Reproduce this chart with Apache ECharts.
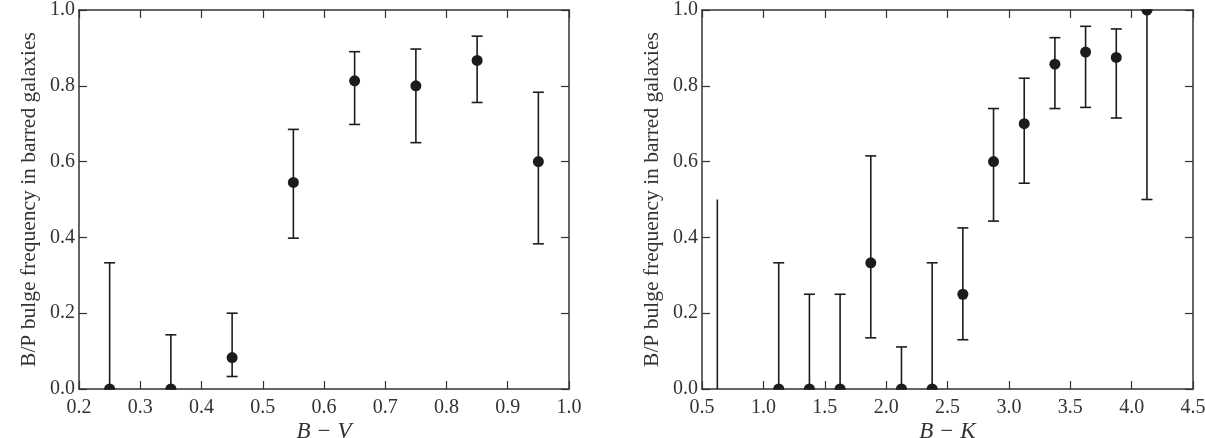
<!DOCTYPE html>
<html>
<head>
<meta charset="utf-8">
<script src="https://cdn.jsdelivr.net/npm/echarts@6/dist/echarts.min.js"></script>
<style>
  html, body { margin: 0; padding: 0; background: #fff; }
  #chart { width: 1205px; height: 438px; }
</style>
</head>
<body>
<div id="chart"></div>
<script>
// B-V panel
var bvX  = [0.25, 0.35, 0.45, 0.55, 0.65, 0.75, 0.85, 0.95];
var bvY  = [0.0, 0.0, 0.083, 0.545, 0.813, 0.800, 0.867, 0.600];
var bvLo = [0.0, 0.0, 0.033, 0.398, 0.698, 0.650, 0.756, 0.383];
var bvHi = [0.333, 0.143, 0.200, 0.685, 0.890, 0.897, 0.931, 0.783];

// B-K panel (first bin has only an upper limit, no point)
var bkX  = [0.625, 1.125, 1.375, 1.625, 1.875, 2.125, 2.375, 2.625, 2.875, 3.125, 3.375, 3.625, 3.875, 4.125];
var bkY  = [null, 0.0, 0.0, 0.0, 0.333, 0.0, 0.0, 0.250, 0.600, 0.700, 0.857, 0.889, 0.875, 1.0];
var bkLo = [0.0, 0.0, 0.0, 0.0, 0.135, 0.0, 0.0, 0.130, 0.443, 0.543, 0.740, 0.743, 0.715, 0.500];
var bkHi = [0.500, 0.333, 0.250, 0.250, 0.615, 0.111, 0.333, 0.425, 0.740, 0.820, 0.927, 0.957, 0.950, 1.0];

var yName = 'B/P bulge frequency in barred galaxies';
var font = 'Liberation Serif';
var ink = '#1c1c1c';
var axisInk = '#333';

function errData(xs, ys, lo, hi) {
    return xs.map(function (x, i) {
        return [x, lo[i], hi[i], ys[i] === null ? 0 : 1];
    });
}
function ptData(xs, ys) {
    var out = [];
    xs.forEach(function (x, i) {
        if (ys[i] !== null) out.push([x, ys[i]]);
    });
    return out;
}

function renderErr(params, api) {
    var x = api.value(0);
    var p1 = api.coord([x, api.value(1)]);
    var p2 = api.coord([x, api.value(2)]);
    var cap = api.value(3);
    var w = 5.5;
    var st = { stroke: ink, lineWidth: 1.6 };
    var kids = [{ type: 'line', shape: { x1: p1[0], y1: p1[1], x2: p2[0], y2: p2[1] }, style: st }];
    if (cap) {
        kids.push({ type: 'line', shape: { x1: p1[0] - w, y1: p1[1], x2: p1[0] + w, y2: p1[1] }, style: st });
        kids.push({ type: 'line', shape: { x1: p2[0] - w, y1: p2[1], x2: p2[0] + w, y2: p2[1] }, style: st });
    }
    return { type: 'group', children: kids };
}

// dots are clipped by the frame, like in the original
function renderDot(params, api) {
    var p = api.coord([api.value(0), api.value(1)]);
    return { type: 'circle', shape: { cx: p[0], cy: p[1], r: 5.5 }, style: { fill: ink } };
}

function xAx(grid, min, max, interval, pos, name) {
    var bottom = pos === 'bottom';
    return {
        type: 'value', gridIndex: grid, position: pos, min: min, max: max, interval: interval,
        name: bottom ? name : '', nameLocation: 'middle', nameGap: 31, nameMoveOverlap: false,
        nameTextStyle: { fontFamily: font, fontStyle: 'italic', fontSize: 23, color: '#333' },
        axisLine: { show: true, onZero: false, lineStyle: { color: axisInk, width: 1.5 } },
        axisTick: { show: true, inside: true, length: 8, lineStyle: { color: axisInk, width: 1.2 } },
        axisLabel: { show: bottom, margin: 9, fontFamily: font, fontSize: 20, color: '#333',
            formatter: function (v) { return v.toFixed(1); } },
        splitLine: { show: false }
    };
}
function yAx(grid, pos) {
    var left = pos === 'left';
    return {
        type: 'value', gridIndex: grid, position: pos, min: 0, max: 1, interval: 0.2,
        name: left ? yName : '', nameLocation: 'middle', nameGap: 39, nameMoveOverlap: false,
        nameTextStyle: { fontFamily: font, fontSize: 21.5, color: '#333' },
        axisLine: { show: true, onZero: false, lineStyle: { color: axisInk, width: 1.5 } },
        axisTick: { show: true, inside: true, length: 8, lineStyle: { color: axisInk, width: 1.2 } },
        axisLabel: { show: left, margin: 4, fontFamily: font, fontSize: 20, color: '#333',
            formatter: function (v) { return v.toFixed(1); } },
        splitLine: { show: false }
    };
}

var myChart = echarts.init(document.getElementById('chart'));
var option = {
    animation: false,
    backgroundColor: '#fff',
    grid: [
        { left: 79, right: 636, top: 10, bottom: 49, outerBoundsMode: 'none', containLabel: false },
        { left: 702, right: 12, top: 10, bottom: 49, outerBoundsMode: 'none', containLabel: false }
    ],
    xAxis: [
        xAx(0, 0.2, 1.0, 0.1, 'bottom', 'B \u2212 V'),
        xAx(0, 0.2, 1.0, 0.1, 'top', ''),
        xAx(1, 0.5, 4.5, 0.5, 'bottom', 'B \u2212 K'),
        xAx(1, 0.5, 4.5, 0.5, 'top', '')
    ],
    yAxis: [
        yAx(0, 'left'), yAx(0, 'right'),
        yAx(1, 'left'), yAx(1, 'right')
    ],
    series: [
        { type: 'custom', xAxisIndex: 0, yAxisIndex: 0, renderItem: renderErr,
          data: errData(bvX, bvY, bvLo, bvHi), z: 2 },
        { type: 'custom', xAxisIndex: 0, yAxisIndex: 0, renderItem: renderDot, clip: true,
          data: ptData(bvX, bvY), z: 3 },
        { type: 'custom', xAxisIndex: 2, yAxisIndex: 2, renderItem: renderErr,
          data: errData(bkX, bkY, bkLo, bkHi), z: 2 },
        { type: 'custom', xAxisIndex: 2, yAxisIndex: 2, renderItem: renderDot, clip: true,
          data: ptData(bkX, bkY), z: 3 }
    ]
};
myChart.setOption(option);
</script>
</body>
</html>
